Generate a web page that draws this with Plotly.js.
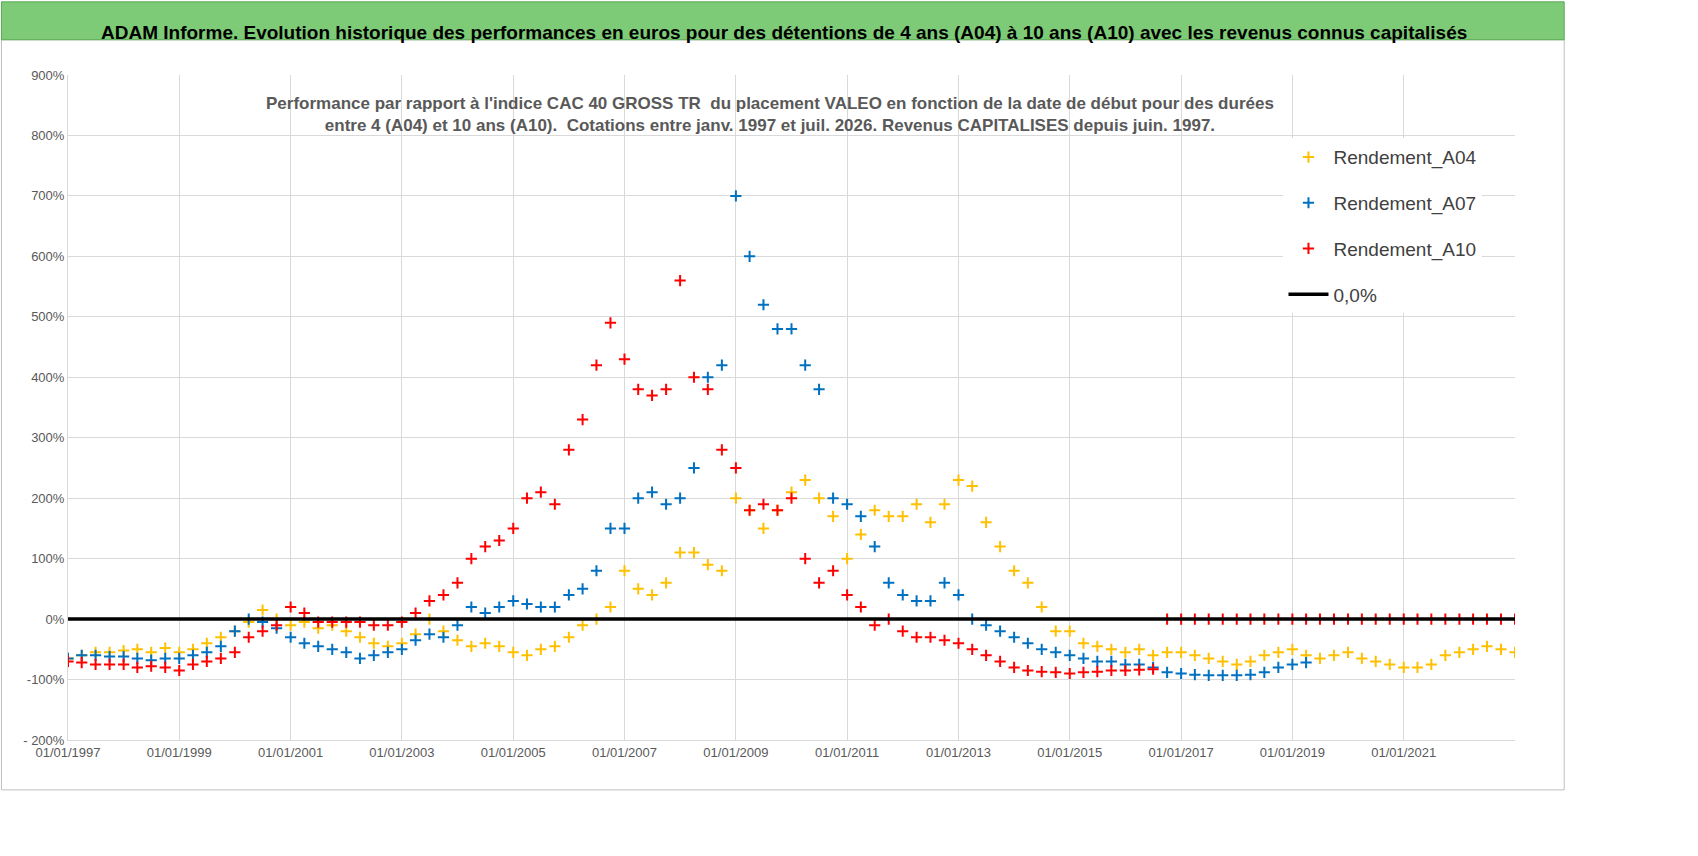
<!DOCTYPE html>
<html><head><meta charset="utf-8">
<script src="https://cdn.plot.ly/plotly-3.0.1.min.js"></script>
<style>body{margin:0;background:#fff}#chart{width:1698px;height:856px}</style>
</head><body><div id="chart"></div>
<script>
// quarterly readings, first point 1997-01-01
const a04 = [-65,-60,-55,-55, -52,-50,-55,-48, -55,-50,-40,-30, -20,-5,15,0, -10,-5,-15,-10,
  -20,-30,-40,-45, -40,-25,0,-20, -35,-45,-40,-45, -55,-60,-50,-45, -30,-10,0,20,
  80,50,40,60, 110,110,90,80, 200,180,150,180, 210,230,200,170, 100,140,180,170,
  170,190,160,190, 230,220,160,120, 80,60,20,-20, -20,-40,-45,-50, -55,-50,-60,-55,
  -55,-60,-65,-70, -75,-70,-60,-55, -50,-60,-65,-60, -55,-65,-70,-75, -80,-80,-75,-60,
  -55,-50,-45,-50, -55];
const a07 = [-65,-60,-60,-62, -62,-65,-68,-65, -65,-60,-55,-45, -20,0,-5,-15, -30,-40,-45,-50,
  -55,-65,-60,-55, -50,-35,-25,-30, -10,20,10,20, 30,25,20,20, 40,50,80,150,
  150,200,210,190, 200,250,400,420, 700,600,520,480, 480,420,380,200, 190,170,120,60,
  40,30,30,60, 40,0,-10,-20, -30,-40,-50,-55, -60,-65,-70,-70, -75,-75,-80,-88,
  -90,-92,-93,-93, -93,-92,-88,-80, -75,-72];
const a10 = [-70,-72,-75,-75, -75,-80,-78,-80, -85,-75,-70,-65, -55,-30,-20,-10, 20,10,-5,-5,
  -5,-5,-10,-10, -5,10,30,40, 60,100,120,130, 150,200,210,190, 280,330,420,490,
  430,380,370,380, 560,400,380,280, 250,180,190,180, 200,100,60,80, 40,20,-10,0,
  -20,-30,-30,-35, -40,-50,-60,-70, -80,-85,-87,-88, -90,-88,-87,-85, -85,-84,-83,
  0,0,0,0,0, 0,0,0,0, 0,0,0,0, 0,0,0,0, 0,0,0,0, 0,0,0,0, 0];
const zeroLine = ['1997-01-01', '2023-01-01'];
const yTicks = [-200,-100,0,100,200,300,400,500,600,700,800,900];
const yTickText = ['- 200%','-100%','0%','100%','200%','300%','400%','500%','600%','700%','800%','900%'];
const xTicks = ['1997','1999','2001','2003','2005','2007','2009','2011','2013','2015','2017','2019','2021'];

function quarterDates(n) {
  const out = [];
  for (let i = 0; i < n; i++) {
    const y = 1997 + Math.floor(i / 4), m = (i % 4) * 3 + 1;
    out.push(y + '-' + String(m).padStart(2, '0') + '-01');
  }
  return out;
}
const mk = (vals, name, color) => ({
  x: quarterDates(vals.length), y: vals, name: name, legendgroup: name, type: 'scatter', mode: 'markers',
  marker: { symbol: 'cross-thin', size: 8, line: { color: color, width: 2 } }
});

const traces = [
  mk(a04, 'Rendement_A04', '#FFC000'),
  mk(a07, 'Rendement_A07', '#0070C0'),
  mk(a10, 'Rendement_A10', '#FF0000'),
  { x: zeroLine, y: [0, 0], name: '0,0%', legendgroup: 'zero', type: 'scatter', mode: 'lines', line: { color: '#000', width: 3.5 } }
];

const layout = {
  width: 1698, height: 856, paper_bgcolor: 'white', plot_bgcolor: 'white',
  font: { family: 'Liberation Sans, Arial, sans-serif', color: '#595959' },
  margin: { l: 68, r: 183, t: 75, b: 116 }, showlegend: true,
  legend: { x: 0.84, xanchor: 'left', y: 0.905, yanchor: 'top', bgcolor: 'white',
    font: { size: 19, color: '#404040' }, itemwidth: 40, tracegroupgap: 18,
    traceorder: 'grouped' },
  xaxis: { type: 'date', range: ['1997-01-01', '2023-01-01'], tickvals: xTicks.map(y => y + '-01-01'),
    ticktext: xTicks.map(y => '01/01/' + y), showgrid: true, gridcolor: '#d9d9d9', zeroline: false,
    tickfont: { size: 13 }, showline: true, linecolor: '#d9d9d9' },
  yaxis: { range: [-200, 900], tickvals: yTicks, ticktext: yTickText, showgrid: true, gridcolor: '#d9d9d9',
    zeroline: false, tickfont: { size: 13 }, showline: true, linecolor: '#d9d9d9' },
  shapes: [
    { type: 'rect', xref: 'paper', yref: 'paper', x0: -0.046, x1: 1.034, y0: -0.075, y1: 1.053,
      line: { color: '#bfbfbf', width: 1 } },
    { type: 'rect', xref: 'paper', yref: 'paper', x0: -0.046, x1: 1.034, y0: 1.053, y1: 1.11,
      fillcolor: '#7DCB77', line: { color: '#5aa955', width: 1 } }
  ],
  annotations: [
    { xref: 'paper', yref: 'paper', x: 0.495, y: 1.082, showarrow: false,
      text: '<b>ADAM Informe. Evolution historique des performances en euros pour des détentions de 4 ans (A04) à 10 ans (A10) avec les revenus connus capitalisés</b>',
      font: { size: 19, color: '#000' } },
    { xref: 'paper', yref: 'paper', x: 0.485, y: 0.975, showarrow: false,
      text: "<b>Performance par rapport à l'indice CAC 40 GROSS TR  du placement VALEO en fonction de la date de début pour des durées<br>entre 4 (A04) et 10 ans (A10).  Cotations entre janv. 1997 et juil. 2026. Revenus CAPITALISES depuis juin. 1997.</b>",
      font: { size: 17, color: '#595959' } }
  ]
};
Plotly.newPlot('chart', traces, layout, { displayModeBar: false });
</script></body></html>
